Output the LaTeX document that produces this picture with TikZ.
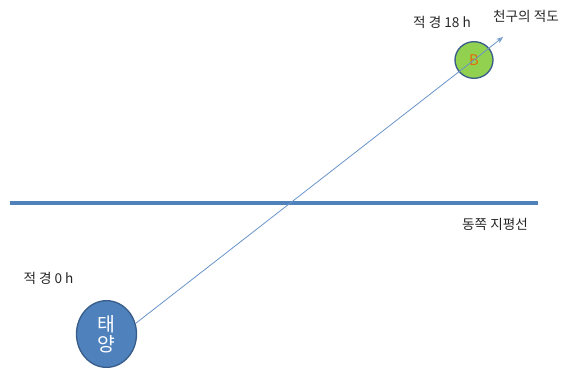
\documentclass[tikz,border=0pt]{standalone}
\usepackage{fontspec}
\newfontfamily\kr{Noto Sans CJK KR}
\usetikzlibrary{arrows.meta,shapes.geometric}
\definecolor{lineblue}{HTML}{4F81BD}
\definecolor{edgeblue}{HTML}{385D8A}
\definecolor{sunblue}{HTML}{4F81BD}
\definecolor{bgreen}{HTML}{92D050}
\definecolor{borange}{HTML}{E46C0A}
\tikzset{
  lbl/.style={font=\kr\fontsize{10.2}{12}\selectfont, text=black!85, inner sep=0pt},
  body/.style={ellipse, draw=edgeblue, line width=1pt, inner sep=0pt},
}
\begin{document}
\begin{tikzpicture}[x=0.75pt,y=-0.75pt]
\useasboundingbox (0,0) rectangle (574,369);
% horizon
\coordinate (hl) at (10,203);
\coordinate (hr) at (538,203);
\draw[lineblue, line width=2.3pt] (hl) -- (hr);
% sun
\node[body, fill=sunblue, minimum width=45pt, minimum height=50pt,
  font=\kr\fontsize{14.5}{16}\selectfont, text=white, align=center] (sun) at (106.5,334) {태\\[-1pt]양};
% B
\node[body, fill=bgreen, minimum width=28.5pt, minimum height=27.5pt,
  font=\kr\fontsize{11}{12}\selectfont, text=borange] (b) at (474,60) {B};
\coordinate (tip) at (503,37);
\draw[lineblue!85, line width=0.6pt, -{Stealth[length=5pt,width=4pt,open]}] (sun.20) -- (b.center) -- (tip);
% labels
\node[lbl] (ra18) at (442,22) {적 경 18 h};
\node[lbl] (eq) at (526,16) {천구의 적도};
\node[lbl] (hor) at (495,224) {동쪽 지평선};
\node[lbl] (ra0) at (48.5,278) {적 경 0 h};
\end{tikzpicture}
\end{document}
